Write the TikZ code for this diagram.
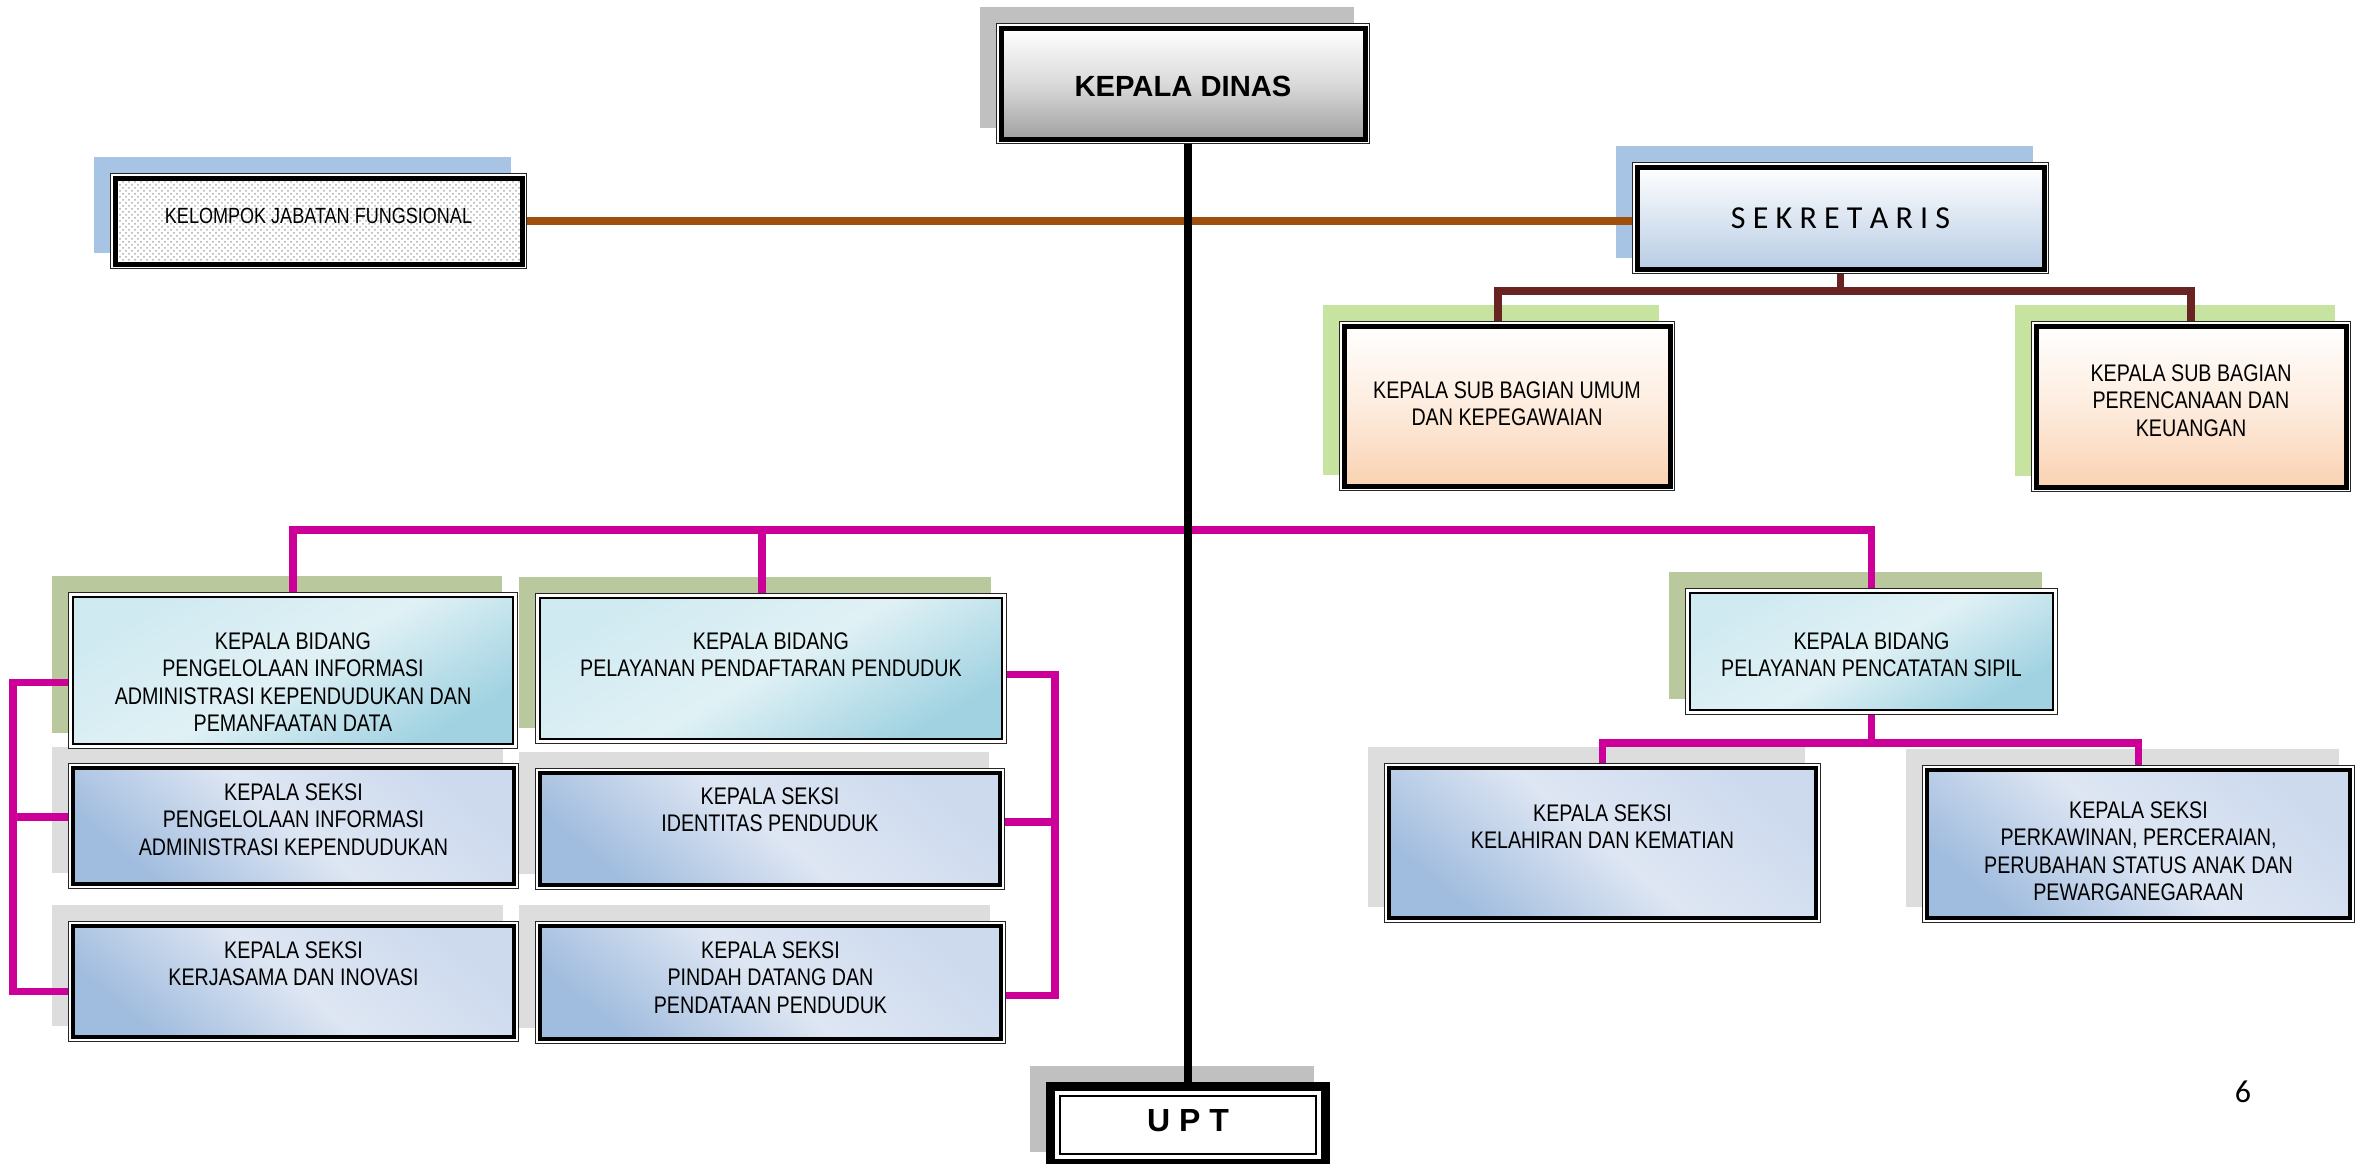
\documentclass[tikz,border=0pt]{standalone}
\usepackage{fontspec}
\setmainfont{Liberation Sans}
\newfontfamily\narrowfont[FakeStretch=0.82]{Liberation Sans}
\newfontfamily\calibfont{Carlito}
\usetikzlibrary{patterns}
\definecolor{shgray}{RGB}{192,192,192}
\definecolor{shblue}{RGB}{167,196,228}
\definecolor{shgreen}{RGB}{198,228,160}
\definecolor{sholive}{RGB}{186,200,158}
\definecolor{shlgray}{RGB}{221,221,221}
\definecolor{brownc}{RGB}{160,78,12}
\definecolor{maroonc}{RGB}{105,35,35}
\definecolor{magc}{RGB}{204,0,153}
\definecolor{kdbot}{RGB}{160,160,160}
\definecolor{kdmid}{RGB}{218,218,218}
\definecolor{sekbot}{RGB}{184,204,228}
\definecolor{sbbot}{RGB}{250,210,178}
\definecolor{sbmid}{RGB}{253,236,222}
\definecolor{bidA}{RGB}{208,234,241}
\definecolor{bidB}{RGB}{160,210,225}
\definecolor{bidC}{RGB}{224,241,245}
\definecolor{skA}{RGB}{205,218,238}
\definecolor{skB}{RGB}{160,188,222}
\definecolor{skC}{RGB}{222,230,243}
\pgfdeclarelayer{shadows}
\pgfdeclarelayer{lines}
\pgfsetlayers{shadows,lines,main}
\newcommand\mybox[9]{%
  \node[#2, inner sep=0pt, outer sep=0pt] (#1) at ({(#3+#5)/2},{(#4+#6)/2})
   {\parbox[c][\dimexpr(#6pt-#4pt-#7pt-#7pt)/2\relax][t]{\dimexpr(#5pt-#3pt-#7pt-#7pt)/2\relax}{\centering\vspace*{#8pt}#9\par}};%
}
\tikzset{
  boxA/.style={draw=black, line width=2.5pt},
  boxB/.style={draw=black, line width=0.8pt},
  boxC/.style={draw=black, line width=2pt},
  kdfill/.style={top color=white, bottom color=kdbot, middle color=kdmid},
  kjffill/.style={preaction={fill=white}, preaction={pattern=crosshatch dots, pattern color=black!32}},
  sekfill/.style={top color=white, bottom color=sekbot},
  sbfill/.style={top color=white, bottom color=sbbot, middle color=sbmid},
  bidfill/.style={top color=bidA, bottom color=bidB, middle color=bidC, shading angle=30},
  skfill/.style={top color=skA, bottom color=skB, middle color=skC, shading angle=-40},
  txt/.style={font=\narrowfont\fontsize{12}{13.8}\selectfont},
  magline/.style={draw=magc, line width=3.75pt},
  maroonline/.style={draw=maroonc, line width=3.75pt},
  brownline/.style={draw=brownc, line width=3.75pt},
  spine/.style={draw=black, line width=4pt},
}
\begin{document}
\begin{tikzpicture}[x=0.5pt, y=-0.5pt]
\useasboundingbox (0,0) rectangle (2356,1163);

% boxes
\mybox{kd}{boxA,kdfill,font=\bfseries\fontsize{14.6}{16}\selectfont}{996}{23}{1370}{144}{5}{24.0}{KEPALA DINAS}
\mybox{kjf}{boxA,kjffill,font=\narrowfont\fontsize{11}{13}\selectfont}{110}{173}{527}{269}{5}{15.1}{KELOMPOK JABATAN FUNGSIONAL}
\mybox{sek}{boxA,sekfill,font=\calibfont\fontsize{16}{19}\selectfont}{1632}{162}{2049}{274}{5}{20.3}{S E K R E T A R I S}
\mybox{sbu}{boxA,sbfill,txt}{1339}{321}{1675}{491}{5}{27.7}{KEPALA SUB BAGIAN UMUM\\DAN KEPEGAWAIAN}
\mybox{sbp}{boxA,sbfill,txt}{2031}{321}{2351}{492}{5}{19.2}{KEPALA SUB BAGIAN\\PERENCANAAN DAN\\KEUANGAN}
\mybox{b1}{boxB,bidfill,txt}{68}{592}{518}{749}{5}{17.7}{KEPALA BIDANG\\PENGELOLAAN INFORMASI\\ADMINISTRASI KEPENDUDUKAN DAN\\PEMANFAATAN DATA}
\mybox{b2}{boxB,bidfill,txt}{535}{593}{1007}{744}{5}{17.2}{KEPALA BIDANG\\PELAYANAN PENDAFTARAN PENDUDUK}
\mybox{b3}{boxB,bidfill,txt}{1685}{588}{2058}{715}{5}{19.7}{KEPALA BIDANG\\PELAYANAN PENCATATAN SIPIL}
\mybox{s1}{boxC,skfill,txt}{68}{763}{519}{889}{5}{7.7}{KEPALA SEKSI\\PENGELOLAAN INFORMASI\\ADMINISTRASI KEPENDUDUKAN}
\mybox{s2}{boxC,skfill,txt}{68}{921}{519}{1042}{5}{7.7}{KEPALA SEKSI\\KERJASAMA DAN INOVASI}
\mybox{s3}{boxC,skfill,txt}{535}{768}{1005}{890}{5}{7.2}{KEPALA SEKSI\\IDENTITAS PENDUDUK}
\mybox{s4}{boxC,skfill,txt}{535}{921}{1006}{1044}{5}{7.7}{KEPALA SEKSI\\PINDAH DATANG DAN\\PENDATAAN PENDUDUK}
\mybox{s5}{boxC,skfill,txt}{1384}{763}{1821}{923}{5}{18.2}{KEPALA SEKSI\\KELAHIRAN DAN KEMATIAN}
\mybox{s6}{boxC,skfill,txt}{1922}{765}{2355}{923}{5}{15.7}{KEPALA SEKSI\\PERKAWINAN, PERCERAIAN,\\PERUBAHAN STATUS ANAK DAN\\PEWARGANEGARAAN}
\mybox{upt}{draw=black,line width=0.6pt,fill=white,font=\bfseries\fontsize{16}{19}\selectfont}{1046}{1082}{1330}{1168}{14}{6.8}{U P T}

\node[font=\calibfont\fontsize{16}{19}\selectfont] (pg) at (2243,1092) {6};

% outer thin frames
\foreach \n in {kd,kjf,sek,sbu,sbp,b1,b2,b3,s1,s2,s3,s4,s5,s6}
  \draw[line width=0.5pt, black!85] ([shift={(-4.5,-4.5)}]\n.north west) rectangle ([shift={(4.5,4.5)}]\n.south east);
\draw[line width=4.5pt, black] ([shift={(-9.5,-9.5)}]upt.north west) rectangle ([shift={(9.5,9.5)}]upt.south east);

% shadows
\begin{pgfonlayer}{shadows}
\foreach \n/\d/\c in {kd/5/shgray,kjf/5/shblue,sek/5/shblue,sbu/5/shgreen,sbp/5/shgreen,b1/5/sholive,b2/5/sholive,b3/5/sholive,s1/5/shlgray,s2/5/shlgray,s3/5/shlgray,s4/5/shlgray,s5/5/shlgray,s6/5/shlgray,upt/14/shgray}
  \fill[\c] ([shift={({-\d-16},{-\d-16})}]\n.north west) rectangle ([shift={({\d-16},{\d-16})}]\n.south east);
\end{pgfonlayer}

% connectors
\begin{pgfonlayer}{lines}
\coordinate (mbus) at (0,291);
\coordinate (pbus) at (0,530);
\coordinate (sbus) at (0,743);
\coordinate (lbx) at (13,0);
\coordinate (rbx) at (1055,0);
\draw[brownline] (kjf.east) -- (kjf.east -| sek.west);
\coordinate (sbuT) at ([shift={(-9,0)}]sbu.north);
\draw[maroonline] (sek.south) -- (sek.south |- mbus);
\draw[maroonline] (sbuT) |- (mbus -| sbp.north) -- (sbp.north);
\coordinate (b2T) at ([shift={(-9,0)}]b2.north);
\draw[magline] (b1.north) |- (pbus -| b3.north) -- (b3.north);
\draw[magline] (b2T) -- (b2T |- pbus);
\coordinate (b1L) at ([shift={(0,12)}]b1.west);
\coordinate (s1L) at ([shift={(0,-9)}]s1.west);
\coordinate (s2L) at ([shift={(0,10)}]s2.west);
\draw[magline] (b1L) -- (b1L -| lbx) -- (s2L -| lbx) -- (s2L);
\draw[magline] (s1L) -- (s1L -| lbx);
\coordinate (b2R) at ([shift={(0,6)}]b2.east);
\coordinate (s3R) at ([shift={(0,-7)}]s3.east);
\coordinate (s4R) at ([shift={(0,13)}]s4.east);
\draw[magline] (b2R) -- (b2R -| rbx) -- (s4R -| rbx) -- (s4R);
\draw[magline] (s3R) -- (s3R -| rbx);
\draw[magline] (b3.south) -- (b3.south |- sbus);
\draw[magline] (s5.north) |- (sbus -| s6.north) -- (s6.north);
\draw[spine] (upt.north |- kd.south) -- ([shift={(0,-14)}]upt.north);
\foreach \n/\d in {kd/5,kjf/5,sek/5,sbu/5,sbp/5,b1/5,b2/5,b3/5,s1/5,s2/5,s3/5,s4/5,s5/5,s6/5,upt/14}
  \fill[white] ([shift={(-\d,-\d)}]\n.north west) rectangle ([shift={(\d,\d)}]\n.south east);
\end{pgfonlayer}
\end{tikzpicture}
\end{document}
